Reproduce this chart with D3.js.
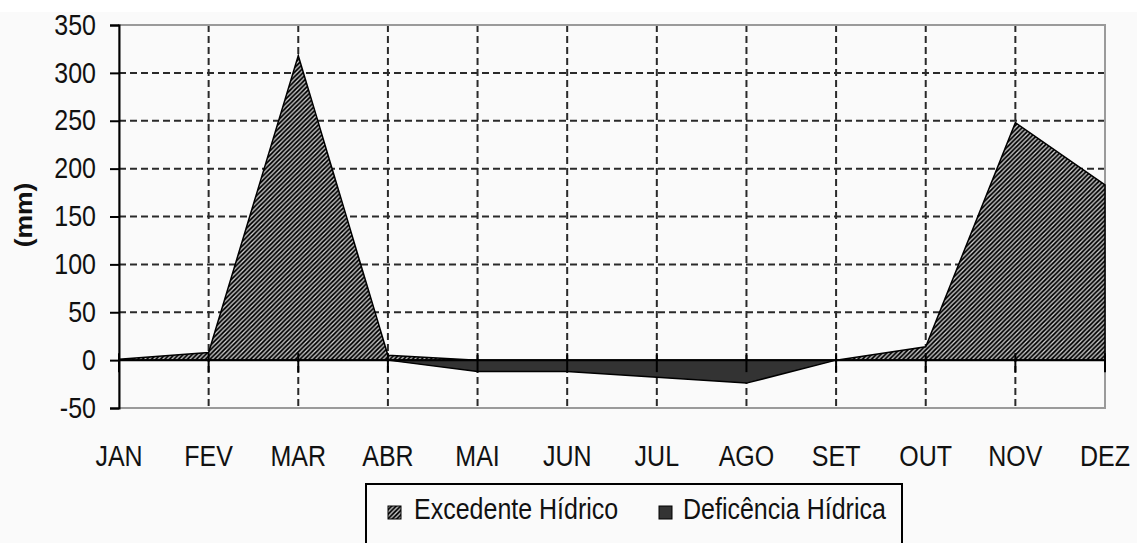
<!DOCTYPE html>
<html lang="pt">
    <head>
        <meta charset="utf-8">
        <style type="text/css">
            body { margin: 0; background: #fff; }
            text { font-family: "Liberation Sans", Arial, sans-serif; fill: #111; }
            .grid line { stroke: #2a2a2a; stroke-width: 2px; stroke-dasharray: 7,4; }
        </style>
    </head>
    <body>
        <svg width="1137" height="543"></svg>

        <script src="https://d3js.org/d3.v7.min.js"></script>
        <script>
            var months = ["JAN", "FEV", "MAR", "ABR", "MAI", "JUN", "JUL", "AGO", "SET", "OUT", "NOV", "DEZ"];
            var excedente = [1, 8, 318, 5, 0, 0, 0, 0, 0, 14, 248, 183];
            var deficiencia = [0, 0, 0, 0, -12, -12, -18, -24, 0, 0, 0, 0];
            var yTicks = [-50, 0, 50, 100, 150, 200, 250, 300, 350];
            var seriesNames = ["Excedente Hídrico", "Deficência Hídrica"];

            var svg = d3.select("svg");
            var pLeft = 119, pRight = 1105, pTop = 25, pBottom = 408;
            var stretch = 1.15;

            var x = d3.scalePoint().domain(months).range([pLeft, pRight]);
            var y = d3.scaleLinear().domain([-50, 350]).range([pBottom, pTop]);

            // background
            svg.append("rect").attr("x", 0).attr("y", 12).attr("width", 1137).attr("height", 531).attr("fill", "#fafafa");

            var defs = svg.append("defs");
            var pat = defs.append("pattern")
                .attr("id", "hatch")
                .attr("patternUnits", "userSpaceOnUse")
                .attr("width", 4.5)
                .attr("height", 4.5);
            pat.append("rect").attr("width", 4.5).attr("height", 4.5).attr("fill", "#000");
            pat.append("path")
                .attr("d", "M-1,1 L1,-1 M0,4.5 L4.5,0 M3.5,5.5 L5.5,3.5")
                .attr("stroke", "#d4d4d4")
                .attr("stroke-width", 1.3);

            // gridlines
            var grid = svg.append("g").attr("class", "grid");
            grid.selectAll(".h")
                .data(yTicks.filter(function (d) { return d > 0 && d < 350; }))
                .enter().append("line")
                .attr("x1", pLeft).attr("x2", pRight)
                .attr("y1", function (d) { return y(d); })
                .attr("y2", function (d) { return y(d); });
            grid.selectAll(".v")
                .data(months.slice(1, -1))
                .enter().append("line")
                .attr("x1", function (d) { return x(d); })
                .attr("x2", function (d) { return x(d); })
                .attr("y1", pTop).attr("y2", pBottom);

            // plot frame
            svg.append("rect")
                .attr("x", pLeft).attr("y", pTop)
                .attr("width", pRight - pLeft).attr("height", pBottom - pTop)
                .attr("fill", "none").attr("stroke", "#9a9a9a").attr("stroke-width", 2);

            // areas
            var area = d3.area()
                .x(function (d, i) { return x(months[i]); })
                .y0(y(0))
                .y1(function (d) { return y(d); });

            svg.append("path")
                .datum(excedente)
                .attr("d", area)
                .attr("fill", "url(#hatch)")
                .attr("stroke", "#000")
                .attr("stroke-width", 1.5);

            svg.append("path")
                .datum(deficiencia)
                .attr("d", area)
                .attr("fill", "#333")
                .attr("stroke", "#000")
                .attr("stroke-width", 1.5);

            // zero axis with ticks
            var xAxis = svg.append("g");
            xAxis.append("line")
                .attr("x1", pLeft).attr("x2", pRight)
                .attr("y1", y(0)).attr("y2", y(0))
                .attr("stroke", "#000").attr("stroke-width", 2);
            xAxis.selectAll(".tk")
                .data(months)
                .enter().append("line")
                .attr("x1", function (d) { return x(d); })
                .attr("x2", function (d) { return x(d); })
                .attr("y1", y(0) - 7).attr("y2", y(0) + 12)
                .attr("stroke", "#000").attr("stroke-width", 2);

            // left axis
            var yAxis = svg.append("g")
                .attr("transform", "translate(" + pLeft + ",0)")
                .call(d3.axisLeft(y).tickValues(yTicks).tickSize(9).tickPadding(14)
                    .tickFormat(function (d) { return String(d); }));
            yAxis.select(".domain").attr("stroke", "#000").attr("stroke-width", 2);
            yAxis.selectAll(".tick line").attr("stroke", "#000").attr("stroke-width", 2);
            yAxis.selectAll(".tick text")
                .attr("font-size", 25)
                .attr("font-family", "Liberation Sans, Arial, sans-serif")
                .attr("fill", "#111")
                .attr("transform", "scale(1," + stretch + ")");

            // month labels
            svg.selectAll(".mlabel")
                .data(months)
                .enter().append("text")
                .attr("text-anchor", "middle")
                .attr("font-size", 25)
                .attr("transform", function (d) { return "translate(" + x(d) + ",466) scale(1," + stretch + ")"; })
                .text(function (d) { return d; });

            // y title
            svg.append("text")
                .attr("text-anchor", "middle")
                .attr("font-size", 23)
                .attr("font-weight", "bold")
                .attr("dy", "0.35em")
                .attr("transform", "translate(24,215) rotate(-90) scale(" + stretch + ",1)")
                .text("(mm)");

            // legend
            var lg = svg.append("g");
            lg.append("rect")
                .attr("x", 366).attr("y", 484)
                .attr("width", 536).attr("height", 70)
                .attr("fill", "#fafafa").attr("stroke", "#000").attr("stroke-width", 2);
            var items = [
                { name: seriesNames[0], fill: "url(#hatch)", sx: 388, tx: 414 },
                { name: seriesNames[1], fill: "#333", sx: 659, tx: 683 }
            ];
            lg.selectAll(".sym")
                .data(items)
                .enter().append("rect")
                .attr("x", function (d) { return d.sx; })
                .attr("y", 506)
                .attr("width", 13).attr("height", 13)
                .attr("fill", function (d) { return d.fill; })
                .attr("stroke", "#000").attr("stroke-width", 1);
            lg.selectAll(".ltxt")
                .data(items)
                .enter().append("text")
                .attr("font-size", 25)
                .attr("transform", function (d) { return "translate(" + d.tx + ",519) scale(1," + stretch + ")"; })
                .text(function (d) { return d.name; });
        </script>
    </body>
</html>
